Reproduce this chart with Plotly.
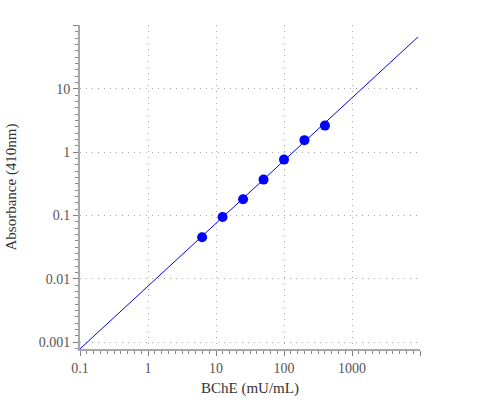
import plotly.graph_objects as go

bche = [6.25, 12.5, 25, 50, 100, 200, 400]
absorbance = [0.0453, 0.0948, 0.181, 0.369, 0.764, 1.55, 2.63]

fit_x = [0.1, 9300]
fit_y = [0.00078, 66]

x_tickvals = [0.1, 1, 10, 100, 1000, 10000]
x_ticktext = ["0.1", "1", "10", "100", "1000", ""]
y_tickvals = [0.001, 0.01, 0.1, 1, 10, 100]
y_ticktext = ["0.001", "0.01", "0.1", "1", "10", ""]

fig = go.Figure()
fig.add_trace(go.Scatter(x=fit_x, y=fit_y, mode="lines",
                         line=dict(color="#0000ff", width=1), showlegend=False))
fig.add_trace(go.Scatter(x=bche, y=absorbance, mode="markers",
                         marker=dict(color="#0000ff", size=10), showlegend=False))

font = "Liberation Serif"
common = dict(
    type="log",
    showline=True, linecolor="#a8a8a8", linewidth=2,
    ticks="outside", ticklen=5, tickcolor="#808080", tickwidth=1,
    showgrid=True, gridcolor="#a8a8a8", griddash="1px,5px", gridwidth=1,
    zeroline=False, automargin=False,
    tickfont=dict(family=font, size=14, color="#555"),
    minor=dict(ticks="outside", ticklen=3, tickcolor="#8a8a8a", tickwidth=1,
               dtick=0.1, showgrid=False),
)

fig.update_xaxes(range=[-1, 4], tickvals=x_tickvals, ticktext=x_ticktext,
                 title=dict(text="BChE (mU/mL)", font=dict(family=font, size=15, color="#333"), standoff=8),
                 **common)
fig.update_yaxes(range=[-3.11, 2.01], tickvals=y_tickvals, ticktext=y_ticktext,
                 title=dict(text="Absorbance (410nm)", font=dict(family=font, size=15, color="#333"), standoff=18),
                 **common)

fig.update_layout(width=500, height=400,
                  margin=dict(l=80, r=80, t=25, b=51),
                  font=dict(family=font),
                  paper_bgcolor="white", plot_bgcolor="white")

fig.write_html("out.html")
